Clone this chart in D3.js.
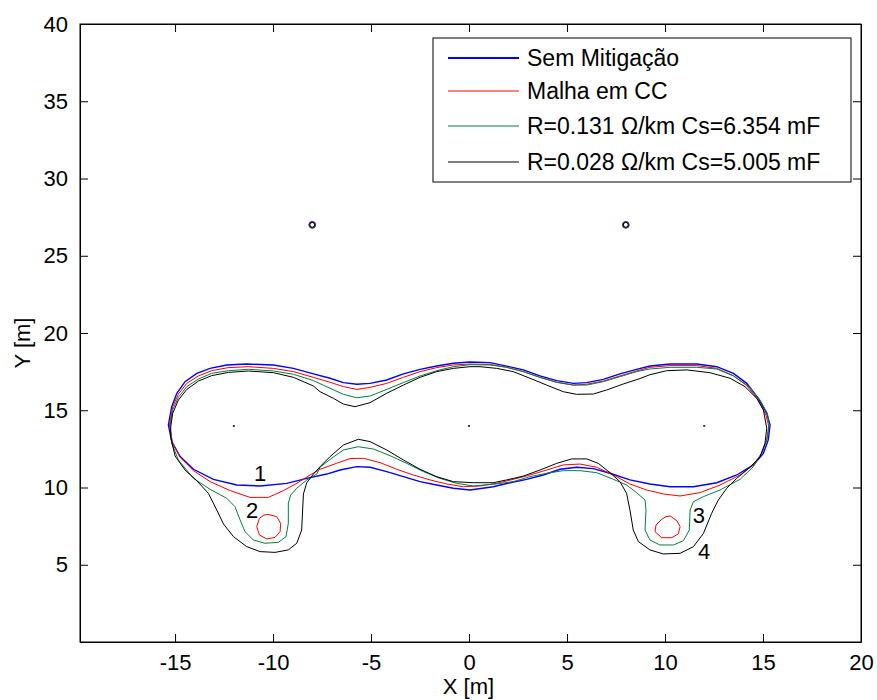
<!DOCTYPE html>
<html>
<head>
<meta charset="utf-8">
<script src="https://cdn.jsdelivr.net/npm/d3@7"></script>
<style>
    body { margin: 0; background: #fff; }
    svg { font-family: "Liberation Sans", Arial, sans-serif; }
</style>
</head>
<body>
<svg id="chart"></svg>
<script>
// Axis ticks
const xTicks = [-15, -10, -5, 0, 5, 10, 15, 20];
const yTicks = [5, 10, 15, 20, 25, 30, 35, 40];

const seriesNames = [
    "Sem Mitigação",
    "Malha em CC",
    "R=0.131 Ω/km Cs=6.354 mF",
    "R=0.028 Ω/km Cs=5.005 mF",
];

// Contour lines [x, y] in metres
const semMitigacao = [
    [-15.34, 14.05], [-15.17, 15.23], [-14.91, 16.1], [-14.49, 16.85], [-13.89, 17.39], [-13.21, 17.71],
    [-12.36, 17.93], [-11.34, 17.99], [-9.98, 17.93], [-8.96, 17.71], [-7.94, 17.35], [-7.09, 17.07],
    [-6.41, 16.79], [-5.73, 16.68], [-5.05, 16.74], [-4.2, 16.96], [-3.35, 17.35], [-2.5, 17.65],
    [-1.65, 17.86], [-0.8, 18.04], [0.05, 18.12], [1.07, 18.08], [1.92, 17.86], [2.77, 17.61],
    [3.62, 17.22], [4.47, 16.92], [5.32, 16.74], [6.0, 16.79], [6.85, 17.0], [7.7, 17.35],
    [8.55, 17.65], [9.23, 17.86], [10.26, 17.99], [11.62, 17.99], [12.64, 17.82], [13.49, 17.39],
    [14.17, 16.74], [14.76, 15.77], [15.19, 14.8], [15.36, 14.05], [15.27, 13.08], [15.02, 12.21],
    [14.51, 11.46], [13.66, 10.81], [12.64, 10.31], [11.45, 10.05], [10.26, 10.05], [9.23, 10.23],
    [8.21, 10.49], [7.19, 10.92], [6.34, 11.22], [5.49, 11.31], [4.64, 11.18], [3.79, 10.81],
    [2.94, 10.53], [2.09, 10.31], [1.24, 10.05], [0.05, 9.84], [-0.8, 9.95], [-1.65, 10.16],
    [-2.5, 10.38], [-3.35, 10.7], [-4.2, 11.03], [-5.05, 11.31], [-5.73, 11.35], [-6.58, 11.13],
    [-7.26, 10.87], [-8.28, 10.59], [-9.3, 10.27], [-10.66, 10.1], [-11.85, 10.16], [-13.04, 10.53],
    [-14.06, 11.18], [-14.74, 12.0], [-15.17, 12.97],
];

const malhaCC = [
    [-15.29, 14.05], [-15.12, 15.23], [-14.83, 16.05], [-14.4, 16.74], [-13.81, 17.22], [-13.13, 17.56],
    [-12.28, 17.76], [-11.26, 17.82], [-9.98, 17.71], [-8.96, 17.5], [-7.94, 17.13], [-7.09, 16.81],
    [-6.41, 16.53], [-5.73, 16.35], [-5.05, 16.48], [-4.2, 16.74], [-3.35, 17.13], [-2.5, 17.5],
    [-1.65, 17.76], [-0.8, 17.93], [0.05, 17.99], [1.07, 17.97], [1.92, 17.78], [2.77, 17.5],
    [3.62, 17.13], [4.47, 16.81], [5.32, 16.63], [6.0, 16.68], [6.85, 16.89], [7.7, 17.22],
    [8.55, 17.54], [9.23, 17.78], [10.26, 17.89], [11.62, 17.89], [12.64, 17.71], [13.49, 17.24],
    [14.17, 16.59], [14.76, 15.66], [15.15, 14.69], [15.29, 13.98], [15.19, 13.08], [14.93, 12.21],
    [14.51, 11.46], [13.83, 10.81], [12.81, 10.16], [11.79, 9.67], [10.77, 9.45], [9.92, 9.58],
    [9.06, 9.84], [8.21, 10.23], [7.36, 10.81], [6.51, 11.31], [5.66, 11.52], [4.81, 11.46],
    [3.96, 11.13], [3.11, 10.81], [2.26, 10.53], [1.41, 10.27], [0.56, 10.1], [-0.29, 10.05],
    [-1.14, 10.23], [-1.99, 10.49], [-2.84, 10.81], [-3.69, 11.18], [-4.54, 11.61], [-5.39, 11.89],
    [-6.07, 11.87], [-6.75, 11.57], [-7.6, 11.18], [-8.11, 10.81], [-8.79, 10.27], [-9.47, 9.8],
    [-10.24, 9.36], [-11.17, 9.36], [-12.19, 9.8], [-13.21, 10.38], [-14.06, 11.09], [-14.74, 11.95],
    [-15.12, 12.86],
];

const malhaCCIlhaEsq = [
    [-10.24, 8.26], [-9.81, 8.11], [-9.61, 7.68], [-9.64, 7.14], [-9.9, 6.77],
    [-10.32, 6.67], [-10.7, 6.93], [-10.83, 7.47], [-10.7, 8.0], [-10.46, 8.22],
];

const malhaCCIlhaDir = [
    [10.26, 8.16], [10.6, 7.85], [10.77, 7.47], [10.68, 6.99], [10.34, 6.75],
    [9.83, 6.75], [9.49, 7.14], [9.54, 7.57], [9.83, 7.94], [10.05, 8.11],
];

const r131 = [
    [-15.25, 14.05], [-15.12, 15.02], [-14.83, 15.84], [-14.4, 16.53], [-13.81, 17.02], [-13.13, 17.39],
    [-12.28, 17.56], [-11.26, 17.65], [-9.98, 17.54], [-8.96, 17.33], [-7.94, 16.92], [-7.09, 16.42],
    [-6.41, 16.03], [-5.73, 15.81], [-5.05, 15.92], [-4.2, 16.35], [-3.35, 16.79], [-2.5, 17.22],
    [-1.65, 17.56], [-0.8, 17.82], [0.05, 17.95], [1.07, 17.93], [1.92, 17.78], [2.77, 17.5],
    [3.62, 17.13], [4.47, 16.81], [5.32, 16.63], [6.0, 16.63], [6.85, 16.85], [7.7, 17.17],
    [8.55, 17.5], [9.23, 17.67], [10.26, 17.78], [11.62, 17.78], [12.64, 17.67], [13.49, 17.22],
    [14.25, 16.57], [14.85, 15.66], [15.22, 14.8], [15.32, 14.05], [15.22, 13.18], [14.98, 12.32],
    [14.51, 11.35], [13.83, 10.53], [12.81, 9.84], [11.96, 9.41], [11.45, 9.08], [11.28, 8.54],
    [11.24, 7.25], [10.94, 6.56], [10.43, 6.28], [9.74, 6.28], [9.23, 6.6], [8.98, 7.25],
    [9.03, 8.54], [8.98, 9.19], [8.55, 9.67], [8.04, 10.16], [7.36, 10.53], [6.51, 10.96],
    [5.66, 11.09], [4.81, 11.09], [3.96, 10.92], [3.11, 10.7], [2.26, 10.38], [1.41, 10.23],
    [0.22, 10.1], [-0.63, 10.27], [-1.48, 10.59], [-2.33, 11.03], [-3.18, 11.56], [-4.03, 12.06],
    [-4.88, 12.49], [-5.65, 12.64], [-6.41, 12.43], [-7.09, 11.82], [-7.6, 11.31], [-7.77, 10.87],
    [-8.28, 10.49], [-8.79, 9.95], [-9.1, 9.51], [-9.22, 8.98], [-9.22, 7.68], [-9.34, 6.82],
    [-9.73, 6.45], [-10.41, 6.39], [-11.0, 6.6], [-11.43, 7.14], [-11.68, 7.9], [-11.94, 8.76],
    [-12.36, 9.3], [-13.21, 9.88], [-14.06, 10.59], [-14.83, 11.78], [-15.17, 12.86],
];

const r028 = [
    [-15.22, 13.94], [-15.12, 14.8], [-14.83, 15.66], [-14.4, 16.35], [-13.81, 16.89], [-13.13, 17.24],
    [-12.28, 17.45], [-11.26, 17.54], [-9.98, 17.43], [-8.96, 17.13], [-7.94, 16.57], [-7.6, 16.2],
    [-6.92, 15.77], [-6.41, 15.4], [-5.82, 15.23], [-5.05, 15.49], [-4.2, 16.1], [-3.35, 16.63],
    [-2.5, 17.13], [-1.65, 17.5], [-0.8, 17.71], [0.05, 17.82], [0.56, 17.82], [1.41, 17.71],
    [2.26, 17.5], [3.11, 17.07], [3.96, 16.63], [4.81, 16.2], [5.49, 16.03], [6.34, 16.05],
    [7.02, 16.31], [7.87, 16.7], [8.72, 17.05], [9.23, 17.3], [10.08, 17.56], [11.11, 17.61],
    [12.3, 17.43], [13.32, 17.07], [14.08, 16.53], [14.68, 15.77], [15.02, 15.02], [15.19, 13.83],
    [15.1, 12.86], [14.85, 12.0], [14.34, 11.31], [13.66, 10.59], [13.15, 9.95], [12.72, 9.19],
    [12.38, 8.33], [11.96, 7.03], [11.45, 6.17], [10.77, 5.74], [9.91, 5.7], [9.23, 5.96],
    [8.64, 6.5], [8.38, 7.25], [8.21, 8.54], [8.04, 9.62], [7.7, 10.38], [7.19, 10.96],
    [6.6, 11.56], [6.0, 11.85], [5.24, 11.85], [4.47, 11.56], [3.62, 11.13], [2.77, 10.74],
    [1.92, 10.49], [1.24, 10.31], [0.22, 10.31], [-0.8, 10.38], [-1.65, 10.7], [-2.5, 11.18],
    [-3.35, 11.78], [-4.2, 12.43], [-5.05, 12.97], [-5.65, 13.12], [-6.41, 12.75], [-7.09, 12.0],
    [-7.6, 11.35], [-7.94, 10.87], [-8.28, 10.31], [-8.45, 9.58], [-8.49, 8.54], [-8.54, 7.25],
    [-8.79, 6.39], [-9.22, 5.96], [-9.9, 5.8], [-10.66, 5.85], [-11.34, 6.17], [-12.02, 6.82],
    [-12.53, 7.64], [-12.87, 8.54], [-13.3, 9.62], [-13.89, 10.44], [-14.49, 11.13], [-15.0, 12.04],
    [-15.22, 13.25],
];

// small closed contours around the upper conductors, and conductor markers
const cabosSuperiores = [[-8, 27], [8, 27]];
const condutores = [[-12, 14], [0, 14], [12, 14]];

// contour level labels
const rotulos = ["1", "2", "3", "4"];
const rotulosPos = [[-10.66, 10.9], [-11.07, 8.54], [11.73, 8.22], [11.99, 5.89]];

class ContourChart {
    constructor(_config) {
        this.config = {
            parentElement: _config.parentElement,
            containerWidth: _config.containerWidth || 877,
            containerHeight: _config.containerHeight || 700,
            margin: { top: 24, right: 16, bottom: 58, left: 80 },
            colors: ["#0000ff", "#ff0000", "#008040", "#000000"],
            widths: [1.4, 1, 1, 1],
            fontSize: 22,
            legendFontSize: 23,
        };
        this.initVis();
    }

    initVis() {
        let vis = this;

        vis.width = vis.config.containerWidth - vis.config.margin.left - vis.config.margin.right;
        vis.height = vis.config.containerHeight - vis.config.margin.top - vis.config.margin.bottom;

        vis.xScale = d3.scaleLinear().domain([-19.85, 20]).range([0, vis.width]);
        vis.yScale = d3.scaleLinear().domain([0, 40]).range([vis.height, 0]);

        vis.svg = d3
            .select(vis.config.parentElement)
            .attr("width", vis.config.containerWidth)
            .attr("height", vis.config.containerHeight);

        vis.chart = vis.svg
            .append("g")
            .attr("transform", `translate(${vis.config.margin.left},${vis.config.margin.top})`);

        vis.line = d3
            .line()
            .x((d) => vis.xScale(d[0]))
            .y((d) => vis.yScale(d[1]))
            .curve(d3.curveLinearClosed);

        vis.renderVis();
    }

    renderVis() {
        let vis = this;
        const c = vis.config;

        // contours: one group per series
        const contours = [
            [semMitigacao],
            [malhaCC, malhaCCIlhaEsq, malhaCCIlhaDir],
            [r131],
            [r028],
        ];

        contours.forEach((paths, i) => {
            vis.chart
                .append("g")
                .selectAll("path")
                .data(paths)
                .join("path")
                .attr("d", vis.line)
                .attr("fill", "none")
                .attr("stroke", c.colors[i])
                .attr("stroke-width", c.widths[i]);
        });

        // tiny rings around the upper conductors (all series overlap there)
        const rx = vis.xScale(0.17) - vis.xScale(0);
        c.colors.forEach((col, i) => {
            vis.chart
                .append("g")
                .selectAll("circle")
                .data(cabosSuperiores)
                .join("circle")
                .attr("cx", (d) => vis.xScale(d[0]))
                .attr("cy", (d) => vis.yScale(d[1]))
                .attr("r", rx - i * 0.3)
                .attr("fill", "none")
                .attr("stroke", col)
                .attr("stroke-width", 1);
        });

        vis.chart
            .append("g")
            .selectAll("rect")
            .data(condutores)
            .join("rect")
            .attr("x", (d) => vis.xScale(d[0]) - 1)
            .attr("y", (d) => vis.yScale(d[1]) - 0.5)
            .attr("width", 2)
            .attr("height", 1.5)
            .attr("fill", "#000");

        vis.chart
            .append("g")
            .selectAll("text")
            .data(rotulos)
            .join("text")
            .attr("x", (d, i) => vis.xScale(rotulosPos[i][0]))
            .attr("y", (d, i) => vis.yScale(rotulosPos[i][1]))
            .attr("dy", "0.35em")
            .attr("text-anchor", "middle")
            .attr("font-size", c.fontSize)
            .text((d) => d);

        // axes box with inward ticks on all four sides; plain hyphen for negatives
        const tick = 8;
        const fmt = (d) => String(d);
        const xAxisBot = d3.axisBottom(vis.xScale).tickValues(xTicks).tickSize(-tick).tickSizeOuter(0).tickPadding(12).tickFormat(fmt);
        const xAxisTop = d3.axisTop(vis.xScale).tickValues(xTicks).tickSize(-tick).tickSizeOuter(0).tickFormat("");
        const yAxisLeft = d3.axisLeft(vis.yScale).tickValues(yTicks).tickSize(-tick).tickSizeOuter(0).tickPadding(12).tickFormat(fmt);
        const yAxisRight = d3.axisRight(vis.yScale).tickValues(yTicks).tickSize(-tick).tickSizeOuter(0).tickFormat("");

        const axes = [
            vis.chart.append("g").attr("transform", `translate(0,${vis.height})`).call(xAxisBot),
            vis.chart.append("g").call(xAxisTop),
            vis.chart.append("g").call(yAxisLeft),
            vis.chart.append("g").attr("transform", `translate(${vis.width},0)`).call(yAxisRight),
        ];
        axes.forEach((g) => {
            g.selectAll("text").attr("font-size", c.fontSize).attr("font-family", "Liberation Sans, Arial, sans-serif").attr("fill", "#000");
            g.selectAll("line").attr("stroke", "#000");
            g.select(".domain").attr("stroke", "#000");
        });
        axes[0].selectAll("text").attr("dy", "0.71em");

        vis.chart
            .append("rect")
            .attr("width", vis.width)
            .attr("height", vis.height)
            .attr("fill", "none")
            .attr("stroke", "#000")
            .attr("stroke-width", 1);

        // axis titles
        vis.svg
            .append("text")
            .attr("x", c.margin.left + vis.width / 2 - 2)
            .attr("y", 686)
            .attr("dy", "0.35em")
            .attr("text-anchor", "middle")
            .attr("font-size", c.fontSize)
            .text("X [m]");

        vis.svg
            .append("text")
            .attr("transform", `translate(22,${c.margin.top + vis.height / 2 + 10}) rotate(-90)`)
            .attr("dy", "0.35em")
            .attr("text-anchor", "middle")
            .attr("font-size", c.fontSize)
            .text("Y [m]");

        // legend
        const legend = vis.svg.append("g").attr("transform", "translate(433,38)");
        legend
            .append("rect")
            .attr("width", 418)
            .attr("height", 144)
            .attr("fill", "#fff")
            .attr("stroke", "#000")
            .attr("stroke-width", 1);

        const rowY = [20, 53, 88, 124];
        const rows = legend
            .selectAll(".legend-row")
            .data(seriesNames)
            .join("g")
            .attr("class", "legend-row")
            .attr("transform", (d, i) => `translate(0,${rowY[i]})`);

        rows.append("line")
            .attr("x1", 15)
            .attr("x2", 86)
            .attr("stroke", (d, i) => c.colors[i])
            .attr("stroke-width", (d, i) => (i === 0 ? 2 : 1));

        rows.append("text")
            .attr("x", 94)
            .attr("dy", "0.35em")
            .attr("font-size", c.legendFontSize)
            .text((d) => d);
    }
}

new ContourChart({ parentElement: "#chart" });
</script>
</body>
</html>
